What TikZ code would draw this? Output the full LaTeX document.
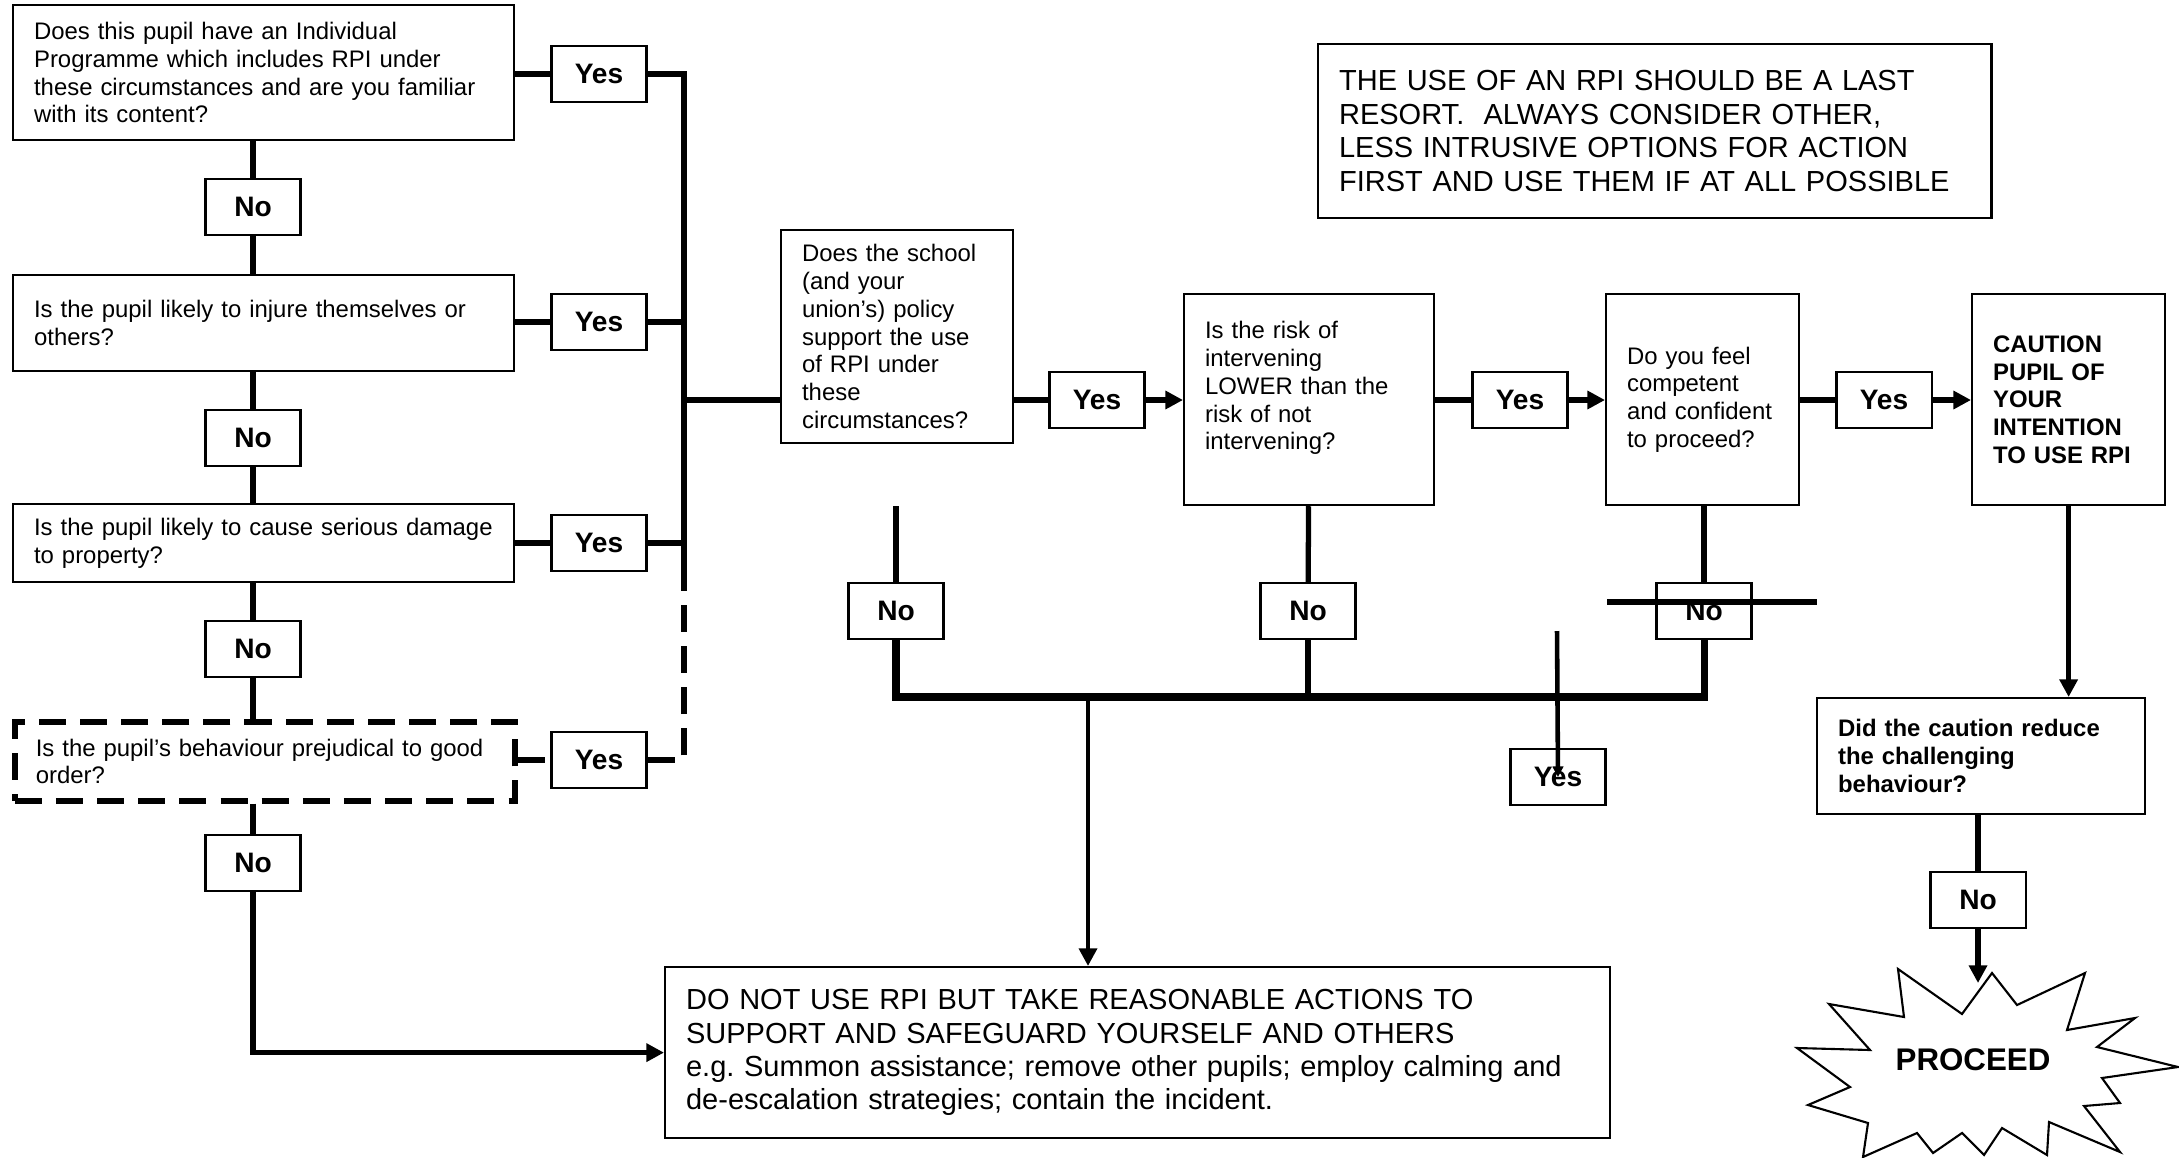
\documentclass[tikz,border=0pt]{standalone}
\usepackage{fontspec}
\setmainfont{Liberation Sans}
\usetikzlibrary{arrows.meta,positioning}

\begin{document}
\begin{tikzpicture}[x=0.01cm, y=-0.01cm,
  main/.style = {draw, line width=0.6pt, inner xsep=0.21cm, inner ysep=0pt, align=left, anchor=north west, font=\fontsize{6.8}{7.9}\selectfont},
  big/.style = {main, font=\fontsize{8.25}{9.5}\selectfont},
  strong/.style = {main, font=\bfseries\fontsize{6.8}{7.9}\selectfont},
  tag/.style = {draw, line width=0.6pt, minimum width=0.95cm, minimum height=0.56cm, inner sep=0pt, font=\bfseries\fontsize{8}{9}\selectfont},
  conn/.style = {line width=1.5pt},
  dashes/.style = {line width=1.6pt, dash pattern=on 7.7pt off 4pt},
  >={Triangle[length=5pt,width=5pt]}]
\useasboundingbox (0,0) rectangle (2179,1157);

\node[main, text width=4.59cm, minimum height=1.35cm] (q1) at (12,4) {Does this pupil have an Individual\\ Programme which includes RPI under\\ these circumstances and are you familiar\\ with its content?};
\node[main, text width=4.59cm, minimum height=0.96cm] (q2) at (12,274) {Is the pupil likely to injure themselves or\\ others?};
\node[main, text width=4.59cm, minimum height=0.78cm] (q3) at (12,503) {Is the pupil likely to cause serious damage\\ to property?};
\node[main, dashes, text width=4.58cm, minimum height=0.79cm] (q4) at (12,719) {Is the pupil’s behaviour prejudical to good\\ order?};

\node[tag] (y1) at (599,74) {Yes};
\node[tag] (y2) at (599,322) {Yes};
\node[tag] (y3) at (599,543) {Yes};
\node[tag] (y4) at (599,760) {Yes};
\node[tag] (n1) at (253,207) {No};
\node[tag] (n2) at (253,438) {No};
\node[tag] (n3) at (253,649) {No};
\node[tag] (n4) at (253,863) {No};

\node[big, text width=6.31cm, minimum height=1.74cm] (note) at (1317,43) {THE USE OF AN RPI SHOULD BE A LAST\\ RESORT.\ \ ALWAYS CONSIDER OTHER,\\ LESS INTRUSIVE OPTIONS FOR ACTION\\ FIRST AND USE THEM IF AT ALL POSSIBLE};

\node[main, text width=1.90cm, minimum height=2.13cm] (school) at (780,229) {Does the school\\ (and your\\ union’s) policy\\ support the use\\ of RPI under\\ these\\ circumstances?};
\node[tag] (y5) at (1097,400) {Yes};
\node[main, text width=2.08cm, minimum height=2.11cm] (risk) at (1183,293) {Is the risk of\\ intervening\\ LOWER than the\\ risk of not\\ intervening?\\ \mbox{}};
\node[tag] (y6) at (1520,400) {Yes};
\node[main, text width=1.51cm, minimum height=2.11cm] (comp) at (1605,293) {Do you feel\\ competent\\ and confident\\ to proceed?};
\node[tag] (y7) at (1884,400) {Yes};
\node[strong, text width=1.51cm, minimum height=2.11cm] (caution) at (1971,293) {CAUTION\\ PUPIL OF\\ YOUR\\ INTENTION\\ TO USE RPI};

\node[tag] (n5) at (896,611) {No};
\node[tag] (n6) at (1308,611) {No};
\node[tag] (n7) at (1704,611) {No};
\node[tag] (y8) at (1558,777) {Yes};

\node[strong, text width=2.86cm, minimum height=1.16cm] (did) at (1816,697) {Did the caution reduce\\ the challenging\\ behaviour?};
\node[tag] (n8) at (1978,900) {No};

\node[big, text width=9.02cm, minimum height=1.71cm] (dont) at (664,966) {DO NOT USE RPI BUT TAKE REASONABLE ACTIONS TO\\ SUPPORT AND SAFEGUARD YOURSELF AND OTHERS\\ e.g.\ Summon assistance; remove other pupils; employ calming and\\ de-escalation strategies; contain the incident.};

\draw[line width=0.6pt] (1992,973) -- (2017,1005) -- (2085,973) -- (2067,1030) -- (2135,1018) -- (2097,1047) -- (2178,1067) -- (2102,1078) -- (2120,1103) -- (2084,1106) -- (2120,1152) -- (2049,1122) -- (2047,1155) -- (2002,1128) -- (1984,1155) -- (1962,1133) -- (1933,1153) -- (1917,1133) -- (1863,1157) -- (1868,1123) -- (1808,1105) -- (1850,1087) -- (1797,1048) -- (1870,1050) -- (1829,1004) -- (1904,1017) -- (1898,969) -- (1962,1014) -- cycle;
\node[font=\bfseries\fontsize{8.9}{10}\selectfont] (proceed) at (1973,1060) {PROCEED};

\coordinate (top) at (684,74);
\coordinate (bot) at (684,565);
\coordinate (nobus) at (1088,697);
\coordinate (burst) at (1978,983);
\coordinate (sl) at (1607,602);
\coordinate (sr) at (1817,602);
\coordinate (st) at (1557,631);

\draw[conn] (n1 |- q1.south) -- (n1) -- (n1 |- q2.north);
\draw[conn] (n2 |- q2.south) -- (n2) -- (n2 |- q3.north);
\draw[conn] (n3 |- q3.south) -- (n3) -- (n3 |- q4.north);
\draw[conn] (n4 |- q4.south) -- (n4);
\draw[conn,->] (n4) |- (dont);

\draw[conn] (q1.east |- y1) -- (y1) -- (top) -- (bot);
\draw[conn] (q2.east |- y2) -- (y2) -- (y2 -| top);
\draw[conn] (q3.east |- y3) -- (y3) -- (y3 -| top);
\draw[dashes] (q4.east |- y4) -- (y4);
\draw[dashes] (y4) -- (y4 -| top) -- (bot);
\draw[conn] (y5 -| top) -- (y5 -| school.west);

\draw[conn] (school.east |- y5) -- (y5);
\draw[conn,->] (y5) -- (y5 -| risk.west);
\draw[conn] (risk.east |- y6) -- (y6);
\draw[conn,->] (y6) -- (y6 -| comp.west);
\draw[conn] (comp.east |- y7) -- (y7);
\draw[conn,->] (y7) -- (y7 -| caution.west);

\draw[conn] (n5 |- risk.south) -- (n5);
\draw[conn] (risk) -- (n6);
\draw[conn] (n7 |- comp.south) -- (n7);
\draw[line width=2pt] (n5) -- (n5 |- nobus) -- (n7 |- nobus) -- (n7);
\draw[conn] (n6) -- (n6 |- nobus);
\draw[line width=1.3pt,->] (nobus) -- (nobus |- dont.north);

\draw[conn] (sl) -- (sr);
\draw[line width=1.3pt,-{Triangle[length=3pt,width=3pt]}] (st) -- (y8.center);

\draw[conn,->] (caution) -- (caution |- did.north);
\draw[conn] (n8 |- did.south) -- (n8);
\draw[conn,->] (n8) -- (burst);
\end{tikzpicture}
\end{document}
